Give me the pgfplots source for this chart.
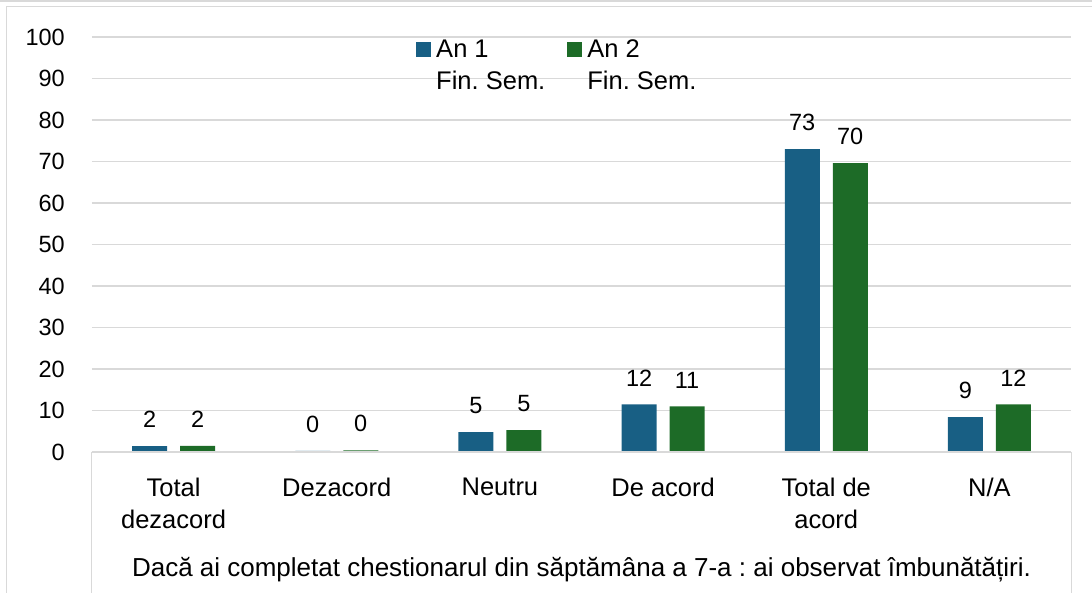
\documentclass[border=0pt]{standalone}
\usepackage{fontspec}
\setmainfont{Liberation Sans}
\usepackage{pgfplots}
\usepackage{pgfplotstable}
\pgfplotsset{compat=1.18}
\frenchspacing
\definecolor{cblue}{RGB}{24,95,132}
\definecolor{cgreen}{RGB}{29,107,39}
\definecolor{gridc}{RGB}{217,217,217}
\newcommand{\f}{\fontsize{25.5}{32}\selectfont}
\newcommand{\ft}{\fontsize{26}{32}\selectfont}
\newcommand{\fn}{\fontsize{23.5}{30}\selectfont}
\pgfplotstableread{
x a b la lb
0 1.4 1.5 2 2
1 0.25 0.4 0 0
2 4.8 5.3 5 5
3 11.5 11.0 12 11
4 73.0 69.6 73 70
5 8.4 11.5 9 12
}\datatable
\begin{document}
\begin{tikzpicture}
\useasboundingbox (-92pt,-141pt) rectangle (1000pt,452pt);
\draw[gridc, line width=2pt] (-92pt,451pt) -- (1000pt,451pt);
\draw[gridc, line width=1pt] (-85pt,-141pt) -- (-85pt,445pt) -- (1000pt,445pt);
\draw[gridc, line width=1pt] (0pt,0pt) -- (0pt,-141pt);
\draw[gridc, line width=1pt] (979pt,0pt) -- (979pt,-141pt);
\begin{axis}[
  at={(0pt,0pt)}, anchor=south west,
  scale only axis, width=979pt, height=415pt,
  ybar=13pt, bar width=35pt,
  xmin=-0.5, xmax=5.5, ymin=0, ymax=100,
  xtick=data,
  xticklabels={{Total\\dezacord},Dezacord,Neutru,{De acord},{Total de\\acord},N/A},
  ytick={0,10,...,100},
  major tick length=0pt,
  axis line style={draw=none},
  axis x line*=bottom,
  axis y line*=left,
  xmajorgrids=false,
  ymajorgrids=true, grid style={draw=gridc, line width=1.5pt},
  yticklabel style={font=\fn},
  xticklabel style={font=\f},
  /pgf/number format/assume math mode=true,
  yticklabel style={anchor=east, inner sep=0pt, xshift=-27pt},
  xticklabel style={align=center, anchor=north, inner sep=0pt, yshift=-26pt},
  xlabel={Dacă ai completat chestionarul din săptămâna a 7-a : ai observat îmbunătățiri.},
  xlabel style={font=\ft, at={(axis description cs:0.5,0)}, anchor=center, yshift=-118pt},
  nodes near coords={\pgfplotspointmeta},
  point meta=explicit symbolic,
  every node near coord/.append style={font=\fn, anchor=south, inner sep=0pt, yshift=18pt, text=black},
  legend columns=2,
  legend style={at={(0.331,0.993)}, anchor=north west, draw=none, fill=none, inner sep=0pt,
    font=\f, nodes={align=left, inner sep=0pt}, /tikz/every even column/.append style={column sep=22pt}},
  legend cell align=left,
  legend image code/.code={\fill[#1] (0pt,9pt) rectangle (15pt,24pt); \path (20pt,16pt);},
]
\addplot[fill=cblue, draw=none] table[x=x, y=a, meta=la] {\datatable};
\addplot[fill=cgreen, draw=none] table[x=x, y=b, meta=lb] {\datatable};
\draw[gridc, line width=1.5pt] (axis cs:-0.5,0) -- (axis cs:5.5,0);
\legend{{An 1\\Fin. Sem.},{An 2\\Fin. Sem.}}
\end{axis}
\end{tikzpicture}
\end{document}
